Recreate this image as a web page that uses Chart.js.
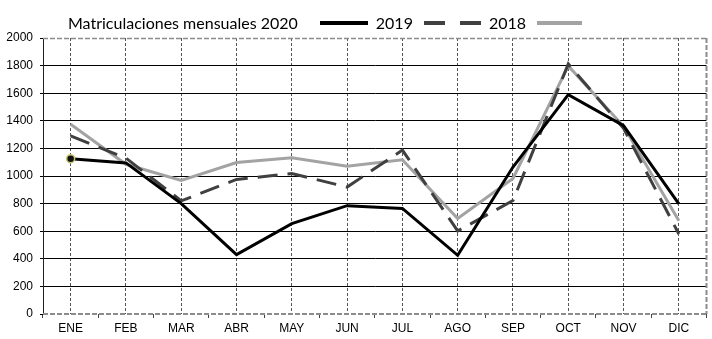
<!DOCTYPE html>
<html>
<head>
<meta charset="utf-8">
<script src="https://cdn.jsdelivr.net/npm/chart.js@4/dist/chart.umd.min.js"></script>
<style>
  html, body { margin: 0; padding: 0; background: #fff; }
  #wrap { position: relative; width: 712px; height: 339px; }
  #legend {
    position: absolute; top: 12px; left: 68px; height: 22px;
    display: flex; align-items: center;
    font-family: Lato, "Open Sans", sans-serif; font-size: 16px; color: #000;
    white-space: nowrap;
  }
  #legend .txt { line-height: 22px; }
  #legend .sw { display: inline-block; height: 4px; }
</style>
</head>
<body>
<div id="wrap">
  <canvas id="c" width="712" height="339"></canvas>
  <div id="legend"></div>
</div>
<script>
// Months and monthly registrations per series
const months = ['ENE', 'FEB', 'MAR', 'ABR', 'MAY', 'JUN', 'JUL', 'AGO', 'SEP', 'OCT', 'NOV', 'DIC'];
const seriesLabels = ['Matriculaciones mensuales 2020', '2019', '2018'];
const values2020 = [1125, 1095, 800, 430, 655, 785, 765, 425, 1065, 1590, 1365, 798];
const values2019 = [1290, 1130, 820, 975, 1018, 920, 1188, 602, 822, 1812, 1345, 580];
const values2018 = [1375, 1085, 968, 1098, 1133, 1070, 1118, 692, 982, 1798, 1360, 676];
const yMin = 0, yMax = 2000, yStep = 200;

const styles = [
  { color: '#000000', dash: [], width: 3 },
  { color: '#404040', dash: [20, 10], width: 3 },
  { color: '#a3a3a3', dash: [], width: 3 }
];
const seriesValues = [values2020, values2019, values2018];

Chart.defaults.font.family = '"Liberation Sans", Arial, sans-serif';

// Legend: label text followed by its line sample
const legend = document.getElementById('legend');
const swatchWidths = [48, 57, 45];
const gapsBefore = [22, 11, 11];
seriesLabels.forEach((lab, i) => {
  const t = document.createElement('span');
  t.className = 'txt';
  t.textContent = lab;
  if (i > 0) t.style.marginLeft = '8px';
  legend.appendChild(t);
  const s = document.createElement('span');
  s.className = 'sw';
  s.style.width = swatchWidths[i] + 'px';
  s.style.marginLeft = gapsBefore[i] + 'px';
  if (styles[i].dash.length) {
    s.style.background = 'repeating-linear-gradient(to right, ' + styles[i].color +
      ' 0 21px, transparent 21px 36px)';
  } else {
    s.style.background = styles[i].color;
  }
  legend.appendChild(s);
});

// Dashed frame around the plot area (top, right, bottom)
const framePlugin = {
  id: 'frame',
  beforeDatasetsDraw(chart) {
    const { ctx, chartArea: a } = chart;
    ctx.save();
    ctx.strokeStyle = '#8c8c8c';
    ctx.setLineDash([5, 2]);
    ctx.lineWidth = 1.5;
    ctx.beginPath();
    ctx.moveTo(a.left, a.top + 0.5);
    ctx.lineTo(a.right, a.top + 0.5);
    ctx.stroke();
    ctx.lineWidth = 2;
    ctx.beginPath();
    ctx.moveTo(a.right, a.top);
    ctx.lineTo(a.right, a.bottom);
    ctx.stroke();
    ctx.beginPath();
    ctx.moveTo(a.left, a.bottom);
    ctx.lineTo(a.right, a.bottom);
    ctx.stroke();
    ctx.restore();
  }
};

const datasets = seriesValues.map((vals, i) => ({
  label: seriesLabels[i],
  data: vals,
  borderColor: styles[i].color,
  borderWidth: styles[i].width,
  borderDash: styles[i].dash,
  tension: 0,
  fill: false,
  order: i,
  pointRadius: i === 0 ? (c => (c.dataIndex === 0 ? 4 : 0)) : 0,
  pointBackgroundColor: '#111',
  pointBorderColor: '#c8c870',
  pointBorderWidth: 1.5,
  xAxisID: 'x',
  yAxisID: 'y'
}));

const tickFont = { family: '"Liberation Sans", Arial, sans-serif', size: 12 };

new Chart(document.getElementById('c'), {
  type: 'line',
  data: { labels: months, datasets },
  options: {
    responsive: false,
    animation: false,
    events: [],
    layout: { padding: { top: 38, right: 3, left: 0, bottom: 0 } },
    plugins: { legend: { display: false }, tooltip: { enabled: false } },
    scales: {
      x: {
        type: 'category',
        position: 'bottom',
        offset: true,
        grid: { offset: true, drawOnChartArea: false, drawTicks: true, tickLength: 4, color: '#444', lineWidth: 1 },
        border: { display: false },
        ticks: { color: '#000', padding: 3, font: tickFont, maxRotation: 0, autoSkip: false },
        afterFit(s) { s.height = 25; }
      },
      x2: {
        type: 'category',
        labels: months,
        position: 'top',
        offset: true,
        grid: { offset: false, drawOnChartArea: true, drawTicks: false, color: '#555', lineWidth: 1 },
        border: { display: false, dash: [3, 2] },
        ticks: { display: false },
        afterFit(s) { s.height = 0; }
      },
      y: {
        min: yMin,
        max: yMax,
        ticks: { stepSize: yStep, color: '#000', padding: 7, font: tickFont, callback: v => String(v) },
        grid: {
          color: c => (c.tick && (c.tick.value === yMin || c.tick.value === yMax) ? 'rgba(0,0,0,0)' : '#000'),
          tickColor: '#000',
          lineWidth: 1,
          tickLength: 3
        },
        border: { display: true, color: '#222', width: 1 },
        afterFit(s) { s.width = 43; }
      }
    }
  },
  plugins: [framePlugin]
});
</script>
</body>
</html>
